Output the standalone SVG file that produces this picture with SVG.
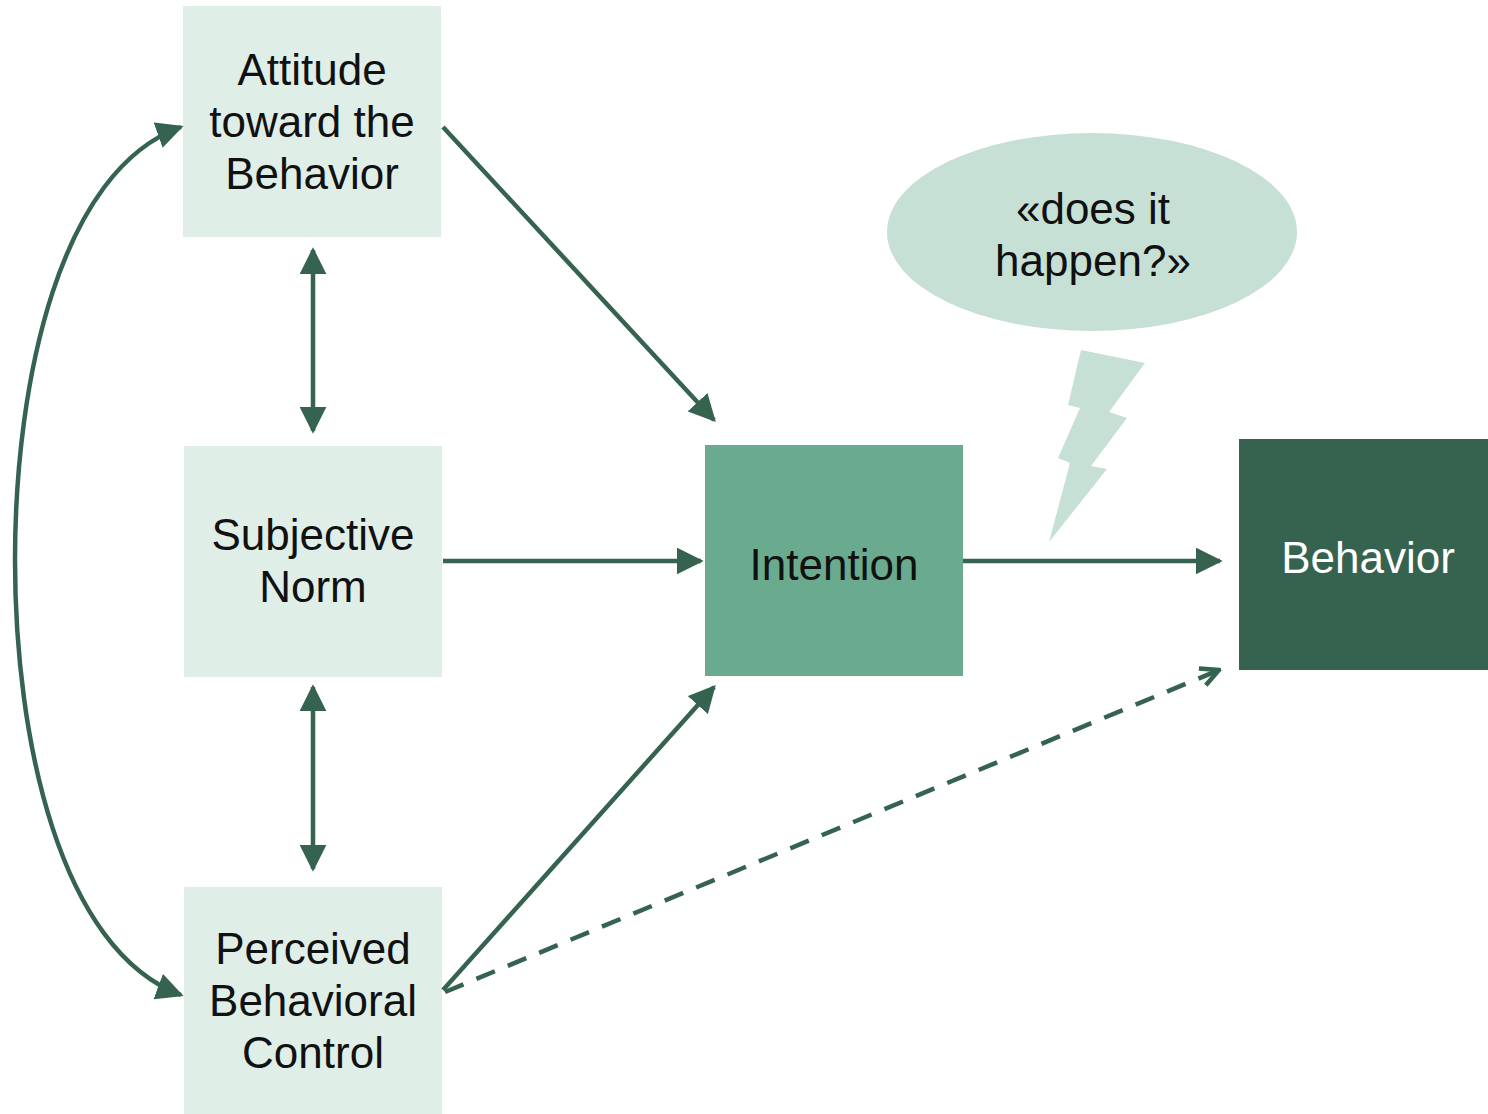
<svg xmlns="http://www.w3.org/2000/svg" width="1488" height="1114" viewBox="0 0 1488 1114">
  <style>
    .lt { fill: #dfeee7; }
    .lbl { font-family: "Liberation Sans", Arial, sans-serif; font-size: 44px; text-anchor: middle; fill: #111; }
    .wht { fill: #ffffff; }
    .ln { stroke: #36634f; stroke-width: 4.5; fill: none; }
  </style>
  <defs>
    <marker id="head" viewBox="0 0 10 10" refX="9" refY="5" markerWidth="6" markerHeight="6" markerUnits="strokeWidth" orient="auto-start-reverse">
      <path d="M0,0 L10,5 L0,10 z" fill="#36634f"/>
    </marker>
    <marker id="open" viewBox="0 0 10 10" refX="9" refY="5" markerWidth="5" markerHeight="5" markerUnits="strokeWidth" orient="auto">
      <path d="M1,1 L9,5 L1,9" fill="none" stroke="#36634f" stroke-width="2"/>
    </marker>
  </defs>

  <rect width="1488" height="1114" fill="#ffffff"/>

  <g id="attitude">
    <rect class="lt" x="183" y="6" width="258" height="231"/>
    <text class="lbl" x="312" y="85">Attitude</text>
    <text class="lbl" x="312" y="137">toward the</text>
    <text class="lbl" x="312" y="189">Behavior</text>
  </g>
  <g id="subjective-norm">
    <rect class="lt" x="184" y="446" width="258" height="231"/>
    <text class="lbl" x="313" y="550">Subjective</text>
    <text class="lbl" x="313" y="602">Norm</text>
  </g>
  <g id="perceived-control">
    <rect class="lt" x="184" y="887" width="258" height="227"/>
    <text class="lbl" x="313" y="964">Perceived</text>
    <text class="lbl" x="313" y="1016">Behavioral</text>
    <text class="lbl" x="313" y="1068">Control</text>
  </g>
  <g id="intention">
    <rect x="705" y="445" width="258" height="231" fill="#6aab90"/>
    <text class="lbl" x="834" y="580">Intention</text>
  </g>
  <g id="behavior">
    <rect x="1239" y="439" width="249" height="231" fill="#36634f"/>
    <text class="lbl wht" x="1368" y="573">Behavior</text>
  </g>
  <g id="thought">
    <ellipse cx="1092" cy="232" rx="205" ry="99" fill="#c6e0d5"/>
    <text class="lbl" x="1093" y="224">«does it</text>
    <text class="lbl" x="1093" y="276">happen?»</text>
    <polygon points="1081,350 1145,363 1109,412 1127,418 1091,466 1107,469 1049,542 1070,463 1058,458 1080,408 1068,405" fill="#c6e0d5"/>
  </g>

  <g id="connectors">
    <line class="ln" x1="443" y1="127" x2="714" y2="420" marker-end="url(#head)"/>
    <line class="ln" x1="443" y1="561" x2="701" y2="561" marker-end="url(#head)"/>
    <line class="ln" x1="443" y1="990" x2="714" y2="687" marker-end="url(#head)"/>
    <line class="ln" x1="963" y1="561" x2="1220" y2="561" marker-end="url(#head)"/>
    <line class="ln" x1="445" y1="992" x2="1219" y2="670" stroke-dasharray="20,14" marker-end="url(#open)"/>
    <line class="ln" x1="313" y1="250" x2="313" y2="431" marker-start="url(#head)" marker-end="url(#head)"/>
    <line class="ln" x1="313" y1="687" x2="313" y2="869" marker-start="url(#head)" marker-end="url(#head)"/>
    <path class="ln" d="M181,127 C60,170 15,380 15,560 C15,740 60,950 181,995" marker-start="url(#head)" marker-end="url(#head)"/>
  </g>
</svg>
